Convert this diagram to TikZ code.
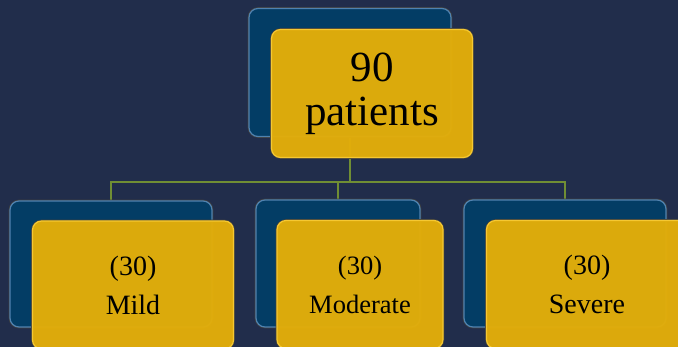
\documentclass[tikz,border=0pt]{standalone}
\usepackage{fontspec}
\setmainfont{Liberation Serif}
\usepackage{tikz}
\usetikzlibrary{positioning}
\definecolor{nuit}{RGB}{33,45,75}
\definecolor{bleu}{RGB}{3,61,101}
\definecolor{bleuclair}{RGB}{80,130,175}
\definecolor{or}{RGB}{227,174,10}
\definecolor{orclair}{RGB}{245,200,50}
\definecolor{vert}{RGB}{112,142,52}
\pgfdeclarelayer{dessous}
\pgfsetlayers{dessous,main}

\begin{document}
\begin{tikzpicture}[x=1pt, y=-1pt,
	arriere/.style={rounded corners=9pt, fill=bleu, draw=bleuclair, line width=1.2pt,
		preaction={draw=black!75, line width=2.6pt},
		minimum width=202pt, minimum height=128pt, inner sep=0pt},
	devant/.style={rounded corners=9pt, fill=or, fill opacity=0.97, text opacity=1,
		draw=orclair, line width=1.2pt,
		preaction={draw=black!75, line width=2.6pt, draw opacity=1},
		minimum width=201pt, minimum height=128pt, inner sep=0pt, align=center,
		xshift=22pt, yshift=-21pt},
	petit/.style={font=\fontsize{28}{39}\selectfont},
	lien/.style={vert, line width=1.6pt}]
	\useasboundingbox (0,0) rectangle (678,347);

	% cadres bleus
	\node[arriere] (hautdos) at (350,72.5) {};
	\node[arriere, minimum height=126pt] (legerdos) at (111,264) {};
	\node[arriere, minimum width=164pt, minimum height=127pt] (moyendos) at (338,263.5) {};
	\node[arriere, minimum height=127pt] (severedos) at (565,263.5) {};

	% cadres jaunes
	\node[devant, font=\fontsize{43}{44}\selectfont] (haut) at (hautdos) {90\\patients};
	\node[devant, petit] (leger) at (legerdos) {(30)\\Mild};
	\node[devant, minimum width=166pt, font=\fontsize{26.5}{39}\selectfont] (moyen) at (moyendos) {(30)\\Moderate};
	\node[devant, petit] (severe) at (severedos) {(30)\\Severe};

	% fond et liens
	\coordinate (barre) at (0,182);
	\begin{pgfonlayer}{dessous}
		\fill[nuit] (0,0) rectangle (678,347);
		\draw[lien] (hautdos.south) -- (hautdos.south |- barre) -| (legerdos.north);
		\draw[lien] (hautdos.south |- barre) -| (moyendos.north);
		\draw[lien] (hautdos.south |- barre) -| (severedos.north);
	\end{pgfonlayer}
\end{tikzpicture}
\end{document}
